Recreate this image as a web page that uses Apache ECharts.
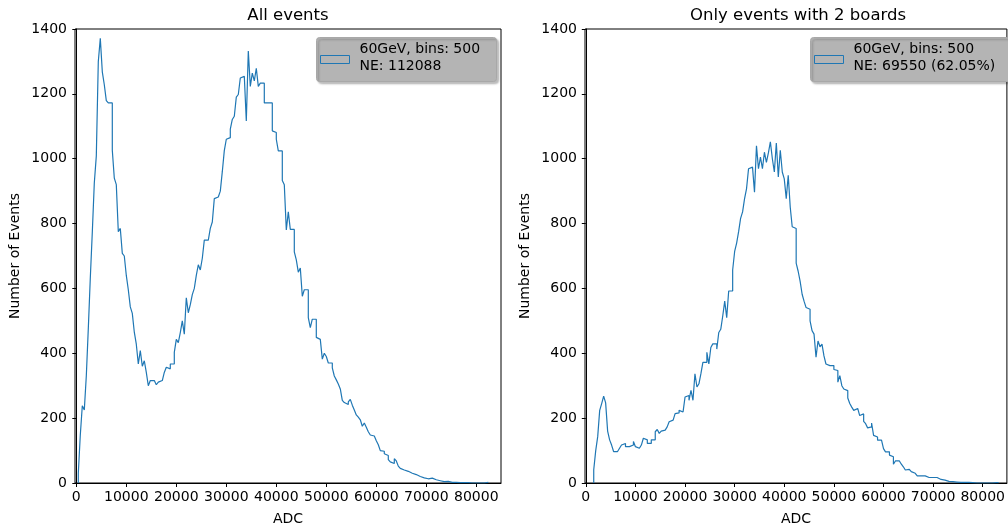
<!DOCTYPE html>
<html>
<head>
<meta charset="utf-8">
<script src="https://cdn.jsdelivr.net/npm/echarts@6/dist/echarts.min.js"></script>
<style>
html,body{margin:0;padding:0;background:#fff;}
#chart{width:1008px;height:531px;}
</style>
</head>
<body>
<div id="chart"></div>
<script>
// ---- data (ADC histogram counts, bin width 400) ----
const binWidth = 400;
const leftStart = 400;
const leftCounts = [
  30,148,238,225,330,476,632,773,925,1008,
  1300,1371,1268,1228,1179,1172,1172,1026,940,920,
  775,785,708,700,640,596,543,523,465,428,
  367,408,360,377,341,300,316,316,316,303,
  311,316,316,341,357,352,367,367,403,443,
  433,464,500,459,571,525,550,581,600,640,
  673,657,693,749,749,744,785,805,877,882,
  882,900,960,1025,1060,1065,1091,1121,1131,1190,
  1198,1249,1254,1259,1116,1332,1223,1264,1240,1279,
  1223,1233,1233,1172,1172,1177,1172,1086,1081,1060,
  1024,1024,933,920,780,836,782,782,713,688,
  650,663,576,596,596,510,479,505,505,449,
  443,438,382,400,390,370,370,355,330,318,
  305,290,255,248,242,250,258,240,225,210,
  203,195,175,185,172,158,148,145,140,130,
  118,100,98,90,85,72,65,60,75,68,
  52,45,40,40,36,40,30,26,26,22,
  20,18,16,15,13,12,15,12,10,8,
  7,5,4,3,5,3,2,4,2,3,
  1,2,1,1,1,1,0,2,0,0,
  0,0,0,0,2
];
const rightStart = 1600;
const rightCounts = [
  41,100,143,224,245,268,247,160,133,117,
  97,97,102,107,117,122,112,112,117,117,
  128,112,107,107,117,138,133,122,122,133,
  133,158,165,153,160,163,168,173,189,194,
  199,214,216,224,219,219,265,270,255,286,
  255,337,296,306,337,372,372,403,367,418,
  429,429,413,464,474,515,561,510,592,592,
  657,714,740,775,816,836,877,908,969,974,
  974,897,1040,969,1005,969,1020,989,1018,1052,
  1000,959,1048,944,1026,959,938,877,949,851,
  790,785,678,653,622,582,560,541,536,500,
  470,459,388,438,420,428,392,367,362,362,
  362,350,347,311,331,300,290,285,262,245,
  234,224,230,234,208,213,190,183,170,173,
  185,147,142,132,132,132,106,96,96,86,
  81,58,68,68,68,58,50,40,42,42,
  35,30,25,22,22,22,22,17,17,17,
  17,20,17,14,11,11,9,7,5,4,
  4,5,3,4,2,3,2,1,2,1,
  1,1,0,1,0,0,0,0,0,0,
  0,0,1,1
];
const xTicks = [0,10000,20000,30000,40000,50000,60000,70000,80000];
const panelTitles = ['All events', 'Only events with 2 boards'];
const legendTexts = ['60GeV, bins: 500\nNE: 112088', '60GeV, bins: 500\nNE: 69550 (62.05%)'];
const xName = 'ADC';
const yName = 'Number of Events';

// step outline of a histogram: left edge up, flat tops, right edge down
function toSteps(start, counts) {
  const pts = [[start, 0]];
  counts.forEach((c, i) => {
    const x0 = start + i * binWidth;
    pts.push([x0, c]);
    pts.push([x0 + binWidth, c]);
  });
  pts.push([start + counts.length * binWidth, 0]);
  return pts;
}

const FONT = 'DejaVu Sans';
const axisColor = '#000';
const grids = [
  {left: 75, top: 29, width: 426, height: 457, show: true, borderColor: axisColor, borderWidth: 1},
  {left: 585, top: 29, width: 426, height: 457, show: true, borderColor: axisColor, borderWidth: 1}
];
const xRanges = [[-260, 84940], [-160, 84870]];
const plain = v => String(v);

function xAxis(i) {
  return {
    type: 'value', gridIndex: i, min: xRanges[i][0], max: xRanges[i][1],
    name: xName, nameLocation: 'middle', nameGap: 29,
    nameTextStyle: {fontFamily: FONT, fontSize: 14, color: '#000'},
    axisLine: {show: true, onZero: false, lineStyle: {color: axisColor, width: 1}},
    axisTick: {show: true, length: 4, customValues: xTicks, lineStyle: {color: axisColor}},
    axisLabel: {customValues: xTicks, formatter: plain, margin: 7, fontFamily: FONT, fontSize: 14, color: '#000'},
    splitLine: {show: false}
  };
}
function yAxis(i) {
  return {
    type: 'value', gridIndex: i, min: 0, max: 1400, interval: 200,
    name: yName, nameLocation: 'middle', nameGap: 53, nameRotate: 90,
    nameTextStyle: {fontFamily: FONT, fontSize: 14, color: '#000'},
    axisLine: {show: true, lineStyle: {color: axisColor, width: 1}},
    axisTick: {show: true, length: 4, lineStyle: {color: axisColor}},
    axisLabel: {formatter: plain, margin: 8, fontFamily: FONT, fontSize: 14, color: '#000'},
    splitLine: {show: false}
  };
}

const lineColor = '#1f77b4';
function legendGroup(x, w, text) {
  return {
    type: 'group', left: x, top: 37,
    children: [
      {type: 'rect', shape: {x: 0, y: 0, width: w, height: 44, r: 3},
       style: {fill: '#b4b4b4', stroke: '#a8a8a8', lineWidth: 1,
               shadowBlur: 2, shadowOffsetX: 2, shadowOffsetY: 2, shadowColor: 'rgba(0,0,0,0.25)'}},
      {type: 'rect', shape: {x: 4, y: 18, width: 29, height: 8},
       style: {fill: 'none', stroke: lineColor, lineWidth: 1}},
      {type: 'text', x: 43, y: 3,
       style: {text: text, font: '14px "DejaVu Sans"', fill: '#000', lineHeight: 17}}
    ]
  };
}

const chart = echarts.init(document.getElementById('chart'), null, {renderer: 'canvas'});
chart.setOption({
  animation: false,
  backgroundColor: '#fff',
  grid: grids,
  xAxis: [xAxis(0), xAxis(1)],
  yAxis: [yAxis(0), yAxis(1)],
  series: [
    {type: 'line', xAxisIndex: 0, yAxisIndex: 0, showSymbol: false,
     data: toSteps(leftStart, leftCounts), lineStyle: {color: lineColor, width: 1.2}, silent: true},
    {type: 'line', xAxisIndex: 1, yAxisIndex: 1, showSymbol: false,
     data: toSteps(rightStart, rightCounts), lineStyle: {color: lineColor, width: 1.2}, silent: true}
  ],
  graphic: [
    {type: 'text', x: 288, y: 7, style: {text: panelTitles[0], font: '16.5px "DejaVu Sans"', fill: '#000', align: 'center'}},
    {type: 'text', x: 798, y: 7, style: {text: panelTitles[1], font: '16.5px "DejaVu Sans"', fill: '#000', align: 'center'}},
    legendGroup(316, 180, legendTexts[0]),
    legendGroup(810, 205, legendTexts[1])
  ]
});
</script>
</body>
</html>
